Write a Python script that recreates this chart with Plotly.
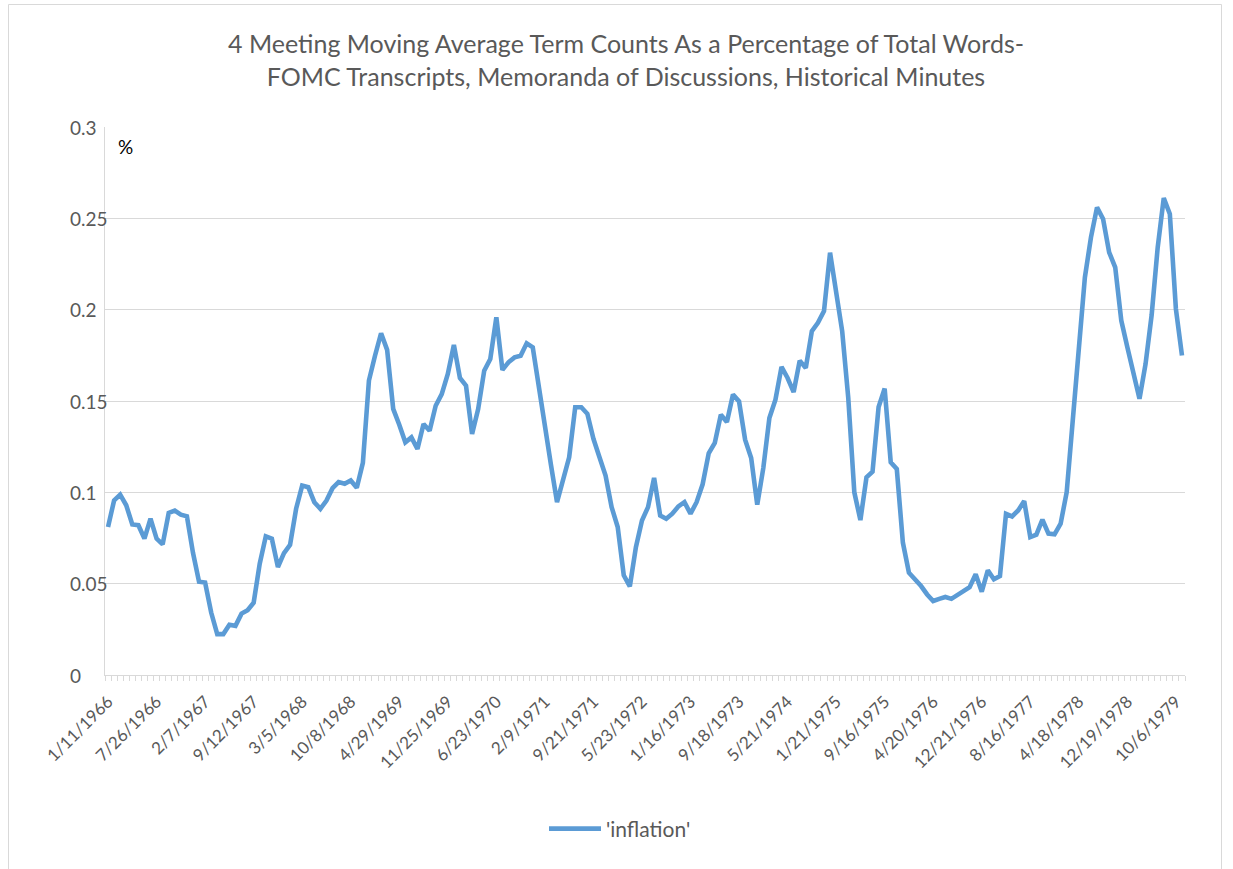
import plotly.graph_objects as go

# 4-meeting moving average of 'inflation' term counts (% of total words), one value per FOMC meeting
inflation = [
    0.081, 0.0956, 0.0987, 0.0929, 0.0824, 0.082, 0.0747, 0.0856, 0.0747, 0.0715,
    0.0887, 0.090, 0.0878, 0.0869, 0.0669, 0.0511, 0.0506, 0.0342, 0.0224, 0.0224,
    0.0275, 0.0269, 0.0336, 0.0355, 0.0396, 0.0609, 0.0759, 0.0746, 0.0591, 0.0667,
    0.0713, 0.091, 0.1037, 0.1028, 0.0946, 0.091, 0.0955, 0.1023, 0.1056, 0.1047,
    0.1065, 0.1025, 0.1161, 0.1612, 0.1748, 0.1871, 0.178, 0.1457, 0.137, 0.1274,
    0.1301, 0.1237, 0.1374, 0.1337, 0.1474, 0.1538, 0.1648, 0.1807, 0.1626, 0.1584,
    0.1319, 0.1456, 0.1666, 0.173, 0.1958, 0.167, 0.1712, 0.1739, 0.1748, 0.1816,
    0.1794, 0.157, 0.135, 0.115, 0.0946, 0.1065, 0.1192, 0.1466, 0.1466, 0.143,
    0.1293, 0.1192, 0.1092, 0.0919, 0.081, 0.0546, 0.0485, 0.070, 0.0846, 0.0919,
    0.1079, 0.0873, 0.0855, 0.0883, 0.0923, 0.0946, 0.0883, 0.0946, 0.1044, 0.1213,
    0.127, 0.1425, 0.1385, 0.1535, 0.1498, 0.1288, 0.1188, 0.0932, 0.1133, 0.1407,
    0.1507, 0.1687, 0.1626, 0.1549, 0.1721, 0.1681, 0.1882, 0.1928, 0.1992, 0.2312,
    0.2111, 0.1882, 0.1517, 0.100, 0.0848, 0.1082, 0.1113, 0.1467, 0.1568, 0.1165,
    0.1128, 0.0725, 0.056, 0.0524, 0.0487, 0.0441, 0.0405, 0.0417, 0.0427, 0.0417,
    0.0438, 0.046, 0.0481, 0.0551, 0.0456, 0.0573, 0.0524, 0.0542, 0.0882, 0.0868,
    0.0901, 0.0952, 0.0755, 0.0768, 0.085, 0.0774, 0.077, 0.0828, 0.1001, 0.1393,
    0.1794, 0.2177, 0.2396, 0.256, 0.2496, 0.2314, 0.2232, 0.194, 0.1794, 0.1658,
    0.1512, 0.1703, 0.197, 0.2341, 0.2611, 0.2524, 0.2004, 0.1749,
]

# Meeting dates shown on the category axis (every 8th meeting)
date_labels = [
    "1/11/1966", "7/26/1966", "2/7/1967", "9/12/1967", "3/5/1968", "10/8/1968",
    "4/29/1969", "11/25/1969", "6/23/1970", "2/9/1971", "9/21/1971", "5/23/1972",
    "1/16/1973", "9/18/1973", "5/21/1974", "1/21/1975", "9/16/1975", "4/20/1976",
    "12/21/1976", "8/16/1977", "4/18/1978", "12/19/1978", "10/6/1979",
]
label_step = 8

# Value axis ticks
y_ticks = [0, 0.05, 0.1, 0.15, 0.2, 0.25, 0.3]
y_tick_text = ["0", "0.05", "0.1", "0.15", "0.2", "0.25", "0.3"]

meeting = list(range(len(inflation)))
tick_pos = meeting[::label_step][:len(date_labels)]

TXT = "#595959"
GRID = "#D9D9D9"
FONT = "Lato"

fig = go.Figure()
fig.add_trace(go.Scatter(
    x=meeting, y=inflation, mode="lines", name="'inflation'",
    line=dict(color="#5B9BD5", width=4.6),
    hoverinfo="x+y",
))

L, R, T, B = 105, 1185, 127, 675
W, H = 1233, 869


def px(xp):
    return (xp - L) / (R - L)


def py(yp):
    return (B - yp) / (B - T)


annotations = [dict(
    text="%", xref="paper", yref="paper", x=px(116), y=py(147),
    xanchor="left", yanchor="middle", showarrow=False,
    font=dict(family=FONT, size=19, color="#000000"),
)]
for v, t in zip(y_ticks, y_tick_text):
    annotations.append(dict(
        text=t, xref="paper", yref="y", x=px(68), y=v,
        xanchor="left", yanchor="middle", showarrow=False,
        font=dict(family=FONT, size=19, color=TXT),
    ))

fig.update_layout(
    width=W, height=H,
    margin=dict(l=L, r=W - R, t=T, b=H - B),
    paper_bgcolor="white", plot_bgcolor="white",
    font=dict(family=FONT, color=TXT, size=18),
    title=dict(
        text="4 Meeting Moving Average Term Counts As a Percentage of Total Words-<br>"
             "FOMC Transcripts, Memoranda of Discussions, Historical Minutes",
        x=626 / W, xanchor="center", y=1 - 53 / H, yanchor="middle", yref="container",
        font=dict(family=FONT, size=25, color=TXT),
    ),
    showlegend=True,
    legend=dict(
        orientation="h", x=px(620), xanchor="center", y=py(829), yanchor="middle",
        font=dict(family=FONT, size=21, color=TXT), itemwidth=52,
        bgcolor="rgba(0,0,0,0)",
    ),
    xaxis=dict(
        range=[-0.5, len(inflation) - 0.5],
        tickmode="array", tickvals=tick_pos, ticktext=date_labels,
        tickangle=-45, ticks="", showgrid=False, zeroline=False,
        showline=True, linecolor=GRID, linewidth=1,
        tickfont=dict(family=FONT, size=17, color=TXT),
        ticklabelstandoff=9,
        minor=dict(tickmode="linear", tick0=-0.5, dtick=1, ticks="outside",
                   ticklen=5, tickcolor=GRID, tickwidth=1, showgrid=False),
    ),
    yaxis=dict(
        range=[0, 0.3], tickmode="array", tickvals=y_ticks,
        showticklabels=False,
        showgrid=True, gridcolor=GRID, gridwidth=1, zeroline=False,
        showline=True, linecolor=GRID, linewidth=1, ticks="",
    ),
    shapes=[dict(
        type="rect", xref="paper", yref="paper",
        x0=px(8.5), x1=px(1221.5), y0=py(900), y1=py(4.5),
        line=dict(color=GRID, width=1), fillcolor="rgba(0,0,0,0)", layer="below",
    )],
    annotations=annotations,
)

fig.write_html("out.html", config={"displayModeBar": False},
               post_script="document.body.style.margin='0px';")
